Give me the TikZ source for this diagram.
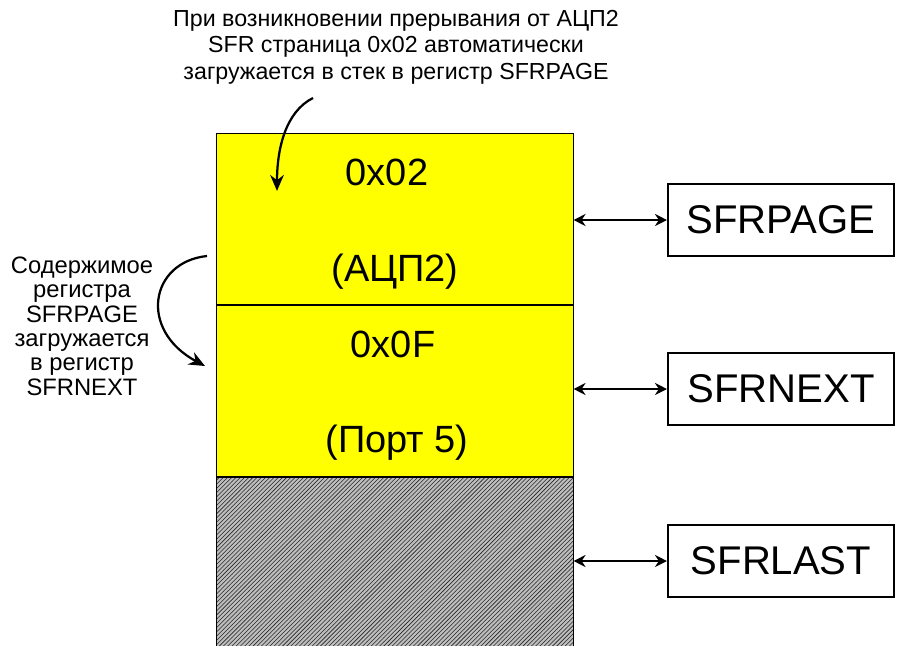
\documentclass[tikz,border=0pt]{standalone}
\usepackage{fontspec}
\setmainfont{Liberation Sans}
\usepackage{xcolor}
\usepackage{tikz}
\usetikzlibrary{arrows.meta,positioning,patterns}
\definecolor{cellyellow}{RGB}{255,255,0}
\definecolor{hatchgray}{RGB}{190,190,190}
\tikzset{
  cell/.style={rectangle, draw=black, line width=0.7pt, minimum width=8.9cm, minimum height=4.28cm, inner sep=0pt, anchor=north},
  regbox/.style={rectangle, draw=black, line width=1.4pt, minimum width=5.65cm, minimum height=1.82cm, font=\fontsize{28.5}{33}\selectfont},
  cellval/.style={font=\fontsize{27}{31}\selectfont},
  note/.style={align=center, font=\fontsize{16.5}{18.8}\selectfont},
  linkarrow/.style={{Stealth[length=3mm,width=3mm]}-{Stealth[length=3mm,width=3mm]}, line width=1.3pt},
  bendarrow/.style={-{Stealth[length=4mm,width=3.4mm]}, line width=1.6pt}
}
\begin{document}
\begin{tikzpicture}[x=0.025cm, y=-0.025cm]
  \useasboundingbox (0,0) rectangle (897,646);

  % stack of SFR pages
  \node[cell, fill=cellyellow] (c1) at (395,133) {};
  \node[cell, fill=cellyellow, below=0pt of c1] (c2) {};
  \node[cell, fill=hatchgray, below=0pt of c2, minimum height=4.4cm] (c3) {};
  \fill[pattern=north east lines, pattern color=black!85] (c3.north west) rectangle (c3.south east);
  \draw[line width=0.7pt] (c3.south west) -- (c3.north west) -- (c3.north east) -- (c3.south east);

  \node[cellval] (v1) at (387,172) {0x02};
  \node[cellval] (n1) at (395,272) {(АЦП2)};
  \node[cellval] (v2) at (393,344) {0x0F};
  \node[cellval] (n2) at (397,443) {(Порт 5)};

  % registers
  \node[regbox] (page) at (781,220) {SFRPAGE};
  \node[regbox] (next) at (781,389) {SFRNEXT};
  \node[regbox] (last) at (781,561) {SFRLAST};
  \draw[linkarrow] (page.west -| c1.east) -- (page.west);
  \draw[linkarrow] (next.west -| c2.east) -- (next.west);
  \draw[linkarrow] (last.west -| c3.east) -- (last.west);

  % notes
  \node[note] (topnote) at (396,47) {При возникновении прерывания от АЦП2\\
  SFR страница 0x02 автоматически\\ загружается в стек в регистр SFRPAGE};
  \coordinate (ts) at (313,98);
  \coordinate (te) at (277,191);
  \draw[bendarrow] (ts) .. controls (285,112) and (277,150) .. (te);

  \node[note, font=\fontsize{16.9}{17.3}\selectfont] (leftnote) at (82,326) {Содержимое\\ регистра\\ SFRPAGE\\ загружается\\ в регистр\\ SFRNEXT};
  \coordinate (ls) at (207,256);
  \coordinate (le) at (205,366);
  \draw[bendarrow] (ls) .. controls (150,262) and (138,330) .. (le);
\end{tikzpicture}
\end{document}
